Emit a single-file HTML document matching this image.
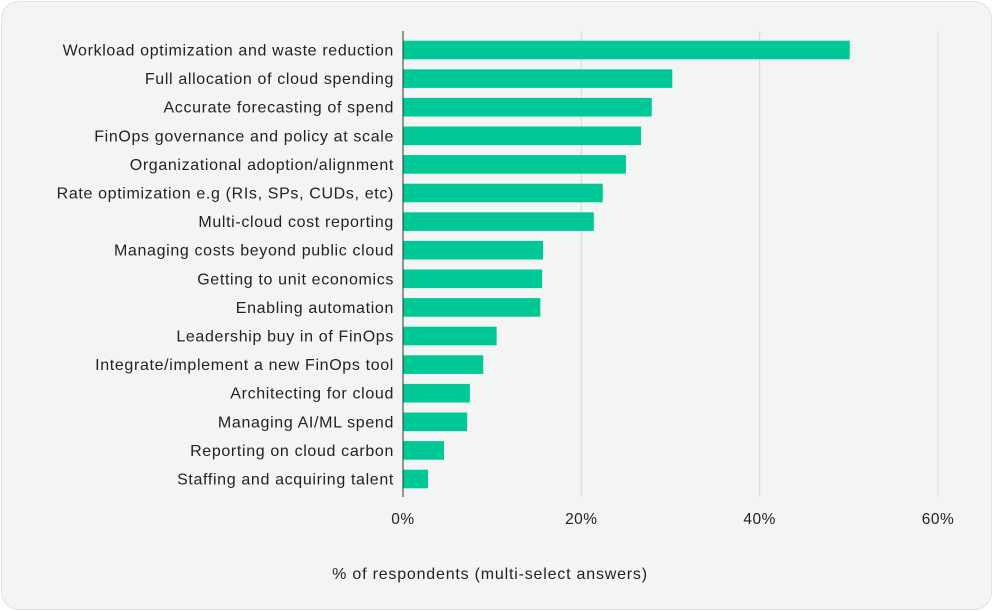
<!DOCTYPE html>
<html><head><meta charset="utf-8"><style>
html,body{margin:0;padding:0;background:#fff;}
#card{position:absolute;left:1px;top:1px;width:989px;height:607px;border:1px solid #dfe3e1;border-radius:18px;background:#f3f5f4;}
svg{position:absolute;left:0;top:0;}
text{font-family:"Liberation Sans",sans-serif;fill:#222;}
.cat{letter-spacing:0.65px;}
</style></head><body>
<div id="card"></div>
<svg id="chart" width="993" height="611"></svg>
<script>
const categories=["Workload optimization and waste reduction","Full allocation of cloud spending","Accurate forecasting of spend","FinOps governance and policy at scale","Organizational adoption/alignment","Rate optimization e.g (RIs, SPs, CUDs, etc)","Multi-cloud cost reporting","Managing costs beyond public cloud","Getting to unit economics","Enabling automation","Leadership buy in of FinOps","Integrate/implement a new FinOps tool","Architecting for cloud","Managing AI/ML spend","Reporting on cloud carbon","Staffing and acquiring talent"];
const values=[50.1,30.2,27.9,26.7,25.0,22.4,21.4,15.7,15.6,15.4,10.5,9.0,7.5,7.2,4.6,2.8];
const ticks=[0,20,40,60];
const tickLabels=["0%","20%","40%","60%"];
const NS="http://www.w3.org/2000/svg";
const svg=document.getElementById('chart');
const x0=403,pxPer=(938-403)/60;
const xs=v=>x0+v*pxPer;
const yc=i=>50+i*28.6;
function mk(t,a){const e=document.createElementNS(NS,t);for(const k in a)e.setAttribute(k,a[k]);svg.appendChild(e);return e;}
ticks.forEach((t,i)=>{
 if(t>0){const g=mk('line',{x1:xs(t),x2:xs(t),y1:31,y2:497,stroke:'#d6d9d8','stroke-width':1});
 
 }
 const l=mk('text',{x:xs(t),y:524,'text-anchor':'middle','font-size':15.5,'letter-spacing':0.5});l.textContent=tickLabels[i];
 
 
});
categories.forEach((c,i)=>{
 const r=mk('rect',{x:x0,y:yc(i)-9.3,width:xs(values[i])-x0,height:18.6,fill:'#00c896'});
 
 
 const t=mk('text',{x:394,y:yc(i)+5.5,'text-anchor':'end','font-size':16,'class':'cat'});t.textContent=c;
 
 
});
const ax=mk('line',{x1:x0,x2:x0,y1:31,y2:497,stroke:'#333','stroke-width':1});


const tt=mk('text',{x:490,y:579,'text-anchor':'middle','font-size':16,'letter-spacing':0.8});tt.textContent="% of respondents (multi-select answers)";


</script>
</body></html>
